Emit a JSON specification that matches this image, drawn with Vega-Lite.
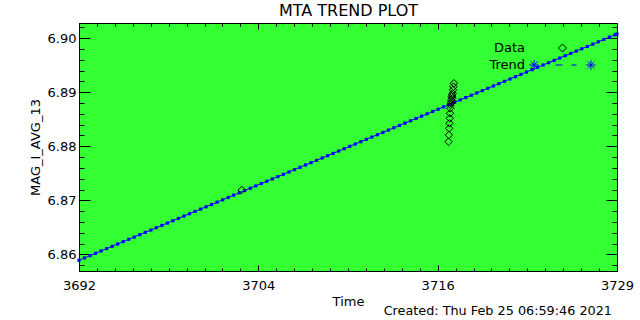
{
  "$schema": "https://vega.github.io/schema/vega-lite/v6.json",
  "width": 538,
  "height": 248,
  "autosize": {"type": "none"},
  "padding": {"left": 79, "top": 23, "right": 23, "bottom": 49},
  "background": "white",
  "title": {"text": "Created: Thu Feb 25 06:59:46 2021", "orient": "bottom", "anchor": "end", "frame": "group", "font": "DejaVu Sans", "fontSize": 12.8, "fontWeight": "normal", "color": "black", "offset": -3, "dx": -5},
  "datasets": {
    "trend": [
      {"time": 3692.00, "value": 6.85890}, {"time": 3692.38, "value": 6.85933}, {"time": 3692.76, "value": 6.85976}, {"time": 3693.14, "value": 6.86019},
      {"time": 3693.52, "value": 6.86062}, {"time": 3693.90, "value": 6.86105}, {"time": 3694.28, "value": 6.86148}, {"time": 3694.66, "value": 6.86191},
      {"time": 3695.04, "value": 6.86234}, {"time": 3695.42, "value": 6.86277}, {"time": 3695.80, "value": 6.86320}, {"time": 3696.18, "value": 6.86363},
      {"time": 3696.56, "value": 6.86406}, {"time": 3696.94, "value": 6.86449}, {"time": 3697.32, "value": 6.86492}, {"time": 3697.70, "value": 6.86535},
      {"time": 3698.08, "value": 6.86578}, {"time": 3698.46, "value": 6.86622}, {"time": 3698.84, "value": 6.86665}, {"time": 3699.22, "value": 6.86708},
      {"time": 3699.60, "value": 6.86751}, {"time": 3699.98, "value": 6.86794}, {"time": 3700.36, "value": 6.86837}, {"time": 3700.74, "value": 6.86880},
      {"time": 3701.12, "value": 6.86923}, {"time": 3701.50, "value": 6.86966}, {"time": 3701.88, "value": 6.87009}, {"time": 3702.26, "value": 6.87052},
      {"time": 3702.64, "value": 6.87095}, {"time": 3703.02, "value": 6.87138}, {"time": 3703.40, "value": 6.87181}, {"time": 3703.78, "value": 6.87224},
      {"time": 3704.16, "value": 6.87267}, {"time": 3704.54, "value": 6.87310}, {"time": 3704.92, "value": 6.87353}, {"time": 3705.30, "value": 6.87396},
      {"time": 3705.68, "value": 6.87439}, {"time": 3706.06, "value": 6.87482}, {"time": 3706.44, "value": 6.87525}, {"time": 3706.82, "value": 6.87568},
      {"time": 3707.20, "value": 6.87611}, {"time": 3707.58, "value": 6.87654}, {"time": 3707.96, "value": 6.87697}, {"time": 3708.34, "value": 6.87740},
      {"time": 3708.72, "value": 6.87783}, {"time": 3709.10, "value": 6.87826}, {"time": 3709.48, "value": 6.87869}, {"time": 3709.86, "value": 6.87912},
      {"time": 3710.24, "value": 6.87955}, {"time": 3710.62, "value": 6.87999}, {"time": 3711.00, "value": 6.88042}, {"time": 3711.38, "value": 6.88085},
      {"time": 3711.76, "value": 6.88128}, {"time": 3712.14, "value": 6.88171}, {"time": 3712.52, "value": 6.88214}, {"time": 3712.90, "value": 6.88257},
      {"time": 3713.28, "value": 6.88300}, {"time": 3713.66, "value": 6.88343}, {"time": 3714.04, "value": 6.88386}, {"time": 3714.42, "value": 6.88429},
      {"time": 3714.80, "value": 6.88472}, {"time": 3715.18, "value": 6.88515}, {"time": 3715.56, "value": 6.88558}, {"time": 3715.94, "value": 6.88601},
      {"time": 3716.32, "value": 6.88644}, {"time": 3716.70, "value": 6.88687}, {"time": 3717.08, "value": 6.88730}, {"time": 3717.46, "value": 6.88773},
      {"time": 3717.84, "value": 6.88816}, {"time": 3718.22, "value": 6.88859}, {"time": 3718.60, "value": 6.88902}, {"time": 3718.98, "value": 6.88945},
      {"time": 3719.36, "value": 6.88988}, {"time": 3719.74, "value": 6.89031}, {"time": 3720.12, "value": 6.89074}, {"time": 3720.50, "value": 6.89117},
      {"time": 3720.88, "value": 6.89160}, {"time": 3721.26, "value": 6.89203}, {"time": 3721.64, "value": 6.89246}, {"time": 3722.02, "value": 6.89289},
      {"time": 3722.40, "value": 6.89332}, {"time": 3722.78, "value": 6.89376}, {"time": 3723.16, "value": 6.89419}, {"time": 3723.54, "value": 6.89462},
      {"time": 3723.92, "value": 6.89505}, {"time": 3724.30, "value": 6.89548}, {"time": 3724.68, "value": 6.89591}, {"time": 3725.06, "value": 6.89634},
      {"time": 3725.44, "value": 6.89677}, {"time": 3725.82, "value": 6.89720}, {"time": 3726.20, "value": 6.89763}, {"time": 3726.58, "value": 6.89806},
      {"time": 3726.96, "value": 6.89849}, {"time": 3727.34, "value": 6.89892}, {"time": 3727.72, "value": 6.89935}, {"time": 3728.10, "value": 6.89978},
      {"time": 3728.48, "value": 6.90021}, {"time": 3728.86, "value": 6.90064}, {"time": 3729.00, "value": 6.90080}
    ],
    "observed": [
      {"time": 3703.19, "value": 6.87191, "series": "Data"},
      {"time": 3717.78, "value": 6.89167, "series": "Data"},
      {"time": 3717.75, "value": 6.89104, "series": "Data"},
      {"time": 3717.72, "value": 6.89043, "series": "Data"},
      {"time": 3717.70, "value": 6.88981, "series": "Data"},
      {"time": 3717.66, "value": 6.88950, "series": "Data"},
      {"time": 3717.63, "value": 6.88919, "series": "Data"},
      {"time": 3717.68, "value": 6.88890, "series": "Data"},
      {"time": 3717.60, "value": 6.88857, "series": "Data"},
      {"time": 3717.66, "value": 6.88830, "series": "Data"},
      {"time": 3717.57, "value": 6.88800, "series": "Data"},
      {"time": 3717.55, "value": 6.88765, "series": "Data"},
      {"time": 3717.53, "value": 6.88704, "series": "Data"},
      {"time": 3717.52, "value": 6.88611, "series": "Data"},
      {"time": 3717.50, "value": 6.88519, "series": "Data"},
      {"time": 3717.48, "value": 6.88426, "series": "Data"},
      {"time": 3717.46, "value": 6.88333, "series": "Data"},
      {"time": 3717.44, "value": 6.88209, "series": "Data"},
      {"time": 3717.42, "value": 6.88085, "series": "Data"}
    ]
  },
  "resolve": {"scale": {"x": "shared", "y": "shared"}, "axis": {"x": "independent", "y": "independent"}},
  "layer": [
    {
      "data": {"name": "trend"},
      "mark": {"type": "line", "color": "#0000ff", "strokeWidth": 1},
      "encoding": {
        "x": {"field": "time", "type": "quantitative",
          "scale": {"domain": [3692, 3729], "zero": false, "nice": false},
          "axis": {"orient": "bottom", "title": "Time", "titlePadding": 0,
            "values": [3692, 3693.2333, 3694.4667, 3695.7, 3696.9333, 3698.1667, 3699.4, 3700.6333, 3701.8667, 3703.1, 3704.3333, 3705.5667, 3706.8, 3708.0333, 3709.2667, 3710.5, 3711.7333, 3712.9667, 3714.2, 3715.4333, 3716.6667, 3717.9, 3719.1333, 3720.3667, 3721.6, 3722.8333, 3724.0667, 3725.3, 3726.5333, 3727.7667, 3729],
            "tickSize": {"condition": {"test": "abs((datum.value - 3692) / 12.3333333 - round((datum.value - 3692) / 12.3333333)) < 0.01", "value": -6}, "value": -3},
            "labelExpr": "abs((datum.value - 3692) / 12.3333333 - round((datum.value - 3692) / 12.3333333)) < 0.01 ? format(floor(datum.value + 0.001), 'd') : ''",
            "labelPadding": 14}},
        "y": {"field": "value", "type": "quantitative",
          "scale": {"domain": [6.85691, 6.90283], "zero": false, "nice": false},
          "axis": {"orient": "left", "title": "MAG_I_AVG_13", "titlePadding": 5,
            "values": [6.858, 6.86, 6.862, 6.864, 6.866, 6.868, 6.87, 6.872, 6.874, 6.876, 6.878, 6.88, 6.882, 6.884, 6.886, 6.888, 6.89, 6.892, 6.894, 6.896, 6.898, 6.9, 6.902],
            "tickSize": {"condition": {"test": "abs(datum.value * 100 - round(datum.value * 100)) < 0.01", "value": -11}, "value": -5},
            "labelExpr": "abs(datum.value * 100 - round(datum.value * 100)) < 0.01 ? format(datum.value, '.2f') : ''",
            "labelPadding": 14}}
      }
    },
    {
      "data": {"name": "trend"},
      "mark": {"type": "point", "shape": "square", "filled": true, "size": 10, "color": "#0000ff", "opacity": 1},
      "encoding": {
        "x": {"field": "time", "type": "quantitative",
          "axis": {"orient": "top", "title": "MTA TREND PLOT", "titleFontSize": 16, "titlePadding": 4, "labels": false,
            "values": [3692, 3693.2333, 3694.4667, 3695.7, 3696.9333, 3698.1667, 3699.4, 3700.6333, 3701.8667, 3703.1, 3704.3333, 3705.5667, 3706.8, 3708.0333, 3709.2667, 3710.5, 3711.7333, 3712.9667, 3714.2, 3715.4333, 3716.6667, 3717.9, 3719.1333, 3720.3667, 3721.6, 3722.8333, 3724.0667, 3725.3, 3726.5333, 3727.7667, 3729],
            "tickSize": {"condition": {"test": "abs((datum.value - 3692) / 12.3333333 - round((datum.value - 3692) / 12.3333333)) < 0.01", "value": -6}, "value": -3}}},
        "y": {"field": "value", "type": "quantitative",
          "axis": {"orient": "right", "title": null, "labels": false,
            "values": [6.858, 6.86, 6.862, 6.864, 6.866, 6.868, 6.87, 6.872, 6.874, 6.876, 6.878, 6.88, 6.882, 6.884, 6.886, 6.888, 6.89, 6.892, 6.894, 6.896, 6.898, 6.9, 6.902],
            "tickSize": {"condition": {"test": "abs(datum.value * 100 - round(datum.value * 100)) < 0.01", "value": -11}, "value": -5}}}
      }
    },
    {
      "data": {"name": "observed"},
      "mark": {"type": "point", "filled": false, "size": 56, "strokeWidth": 1, "opacity": 1},
      "encoding": {
        "x": {"field": "time", "type": "quantitative", "axis": null},
        "y": {"field": "value", "type": "quantitative", "axis": null},
        "color": {"field": "series", "type": "nominal",
          "scale": {"domain": ["Data", "Trend"], "range": ["black", "#0000ff"]},
          "legend": {"title": null, "orient": "none", "legendX": 477, "legendY": 18.5}},
        "shape": {"field": "series", "type": "nominal",
          "scale": {"domain": ["Data", "Trend"], "range": ["diamond", "M-8.3,0L-5.9,0M-7.1,-1.2L-7.1,1.2M-7.95,-0.85L-6.25,0.85M-7.95,0.85L-6.25,-0.85M-1.75,0L0,0M2.25,0L3.5,0M5.9,0L8.3,0M7.1,-1.2L7.1,1.2M6.25,-0.85L7.95,0.85M6.25,0.85L7.95,-0.85"]},
          "legend": {"title": null, "orient": "none", "legendX": 477, "legendY": 18.5}}
      }
    }
  ],
  "config": {
    "view": {"fill": "#33ff33", "stroke": "black", "strokeWidth": 1},
    "axis": {"grid": false, "domain": true, "domainColor": "black", "domainWidth": 1, "tickColor": "black", "tickWidth": 1,
      "labelFont": "DejaVu Sans", "labelFontSize": 13, "labelColor": "black", "labelOverlap": false, "labelFlush": false,
      "titleFont": "DejaVu Sans", "titleFontSize": 13, "titleFontWeight": "normal", "titleColor": "black"},
    "legend": {"padding": 0, "offset": 0, "symbolSize": 64, "symbolStrokeWidth": 1, "labelFont": "DejaVu Sans", "labelFontSize": 13, "labelColor": "black",
      "labelAlign": "right", "labelOffset": -44, "rowPadding": 2, "symbolFillColor": "transparent"}
  }
}
